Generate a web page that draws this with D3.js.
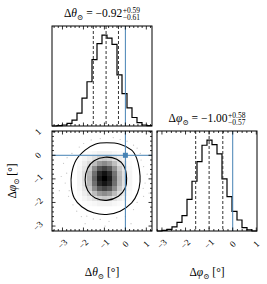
<!DOCTYPE html>
<html>
<head>
<meta charset="utf-8">
<script src="https://cdn.jsdelivr.net/npm/d3@7"></script>
<style>
  body { margin: 0; background: #fff; }
  text { font-family: "Liberation Serif", "DejaVu Serif", serif; fill: #000; }
</style>
</head>
<body>
<svg width="267" height="284"></svg>
<script>
// ranges of the two parameters (degrees)
var thetaRange = [-3.5, 1.27];
var phiRange = [-3.21, 1.03];
var majorTicks = [-3, -2, -1, 0, 1];

// 1D histograms, 20 bins each (relative counts)
var thetaHist = [0, 1, 3, 8, 17, 38, 82, 130, 195, 242, 267, 258, 240, 150, 95, 53, 25, 10, 3, 1];
var phiHist = [0, 2, 5, 12, 25, 45, 92, 145, 202, 250, 265, 252, 225, 152, 100, 57, 32, 10, 3, 0];

// quantiles (16, 50, 84 %) and truth values
var thetaQuant = [-1.53, -0.92, -0.33];
var phiQuant = [-1.57, -1.00, -0.42];
var truth = [0, 0];

// 2D histogram: bins 5..15 in theta (columns) and phi (rows, top = bin 15)
var densCols = [5, 6, 7, 8, 9, 10, 11, 12, 13, 14, 15];
var densRows = [15, 14, 13, 12, 11, 10, 9, 8, 7, 6, 5];
var density = [
  [0, .01, .02, .03, .05, .05, .05, .03, .02, .01, 0],
  [.01, .04, .07, .12, .18, .21, .18, .12, .07, .04, .01],
  [.02, .07, .14, .26, .40, .46, .39, .25, .13, .07, .02],
  [.03, .10, .22, .45, .66, .74, .65, .43, .21, .10, .03],
  [.04, .12, .28, .56, .84, .93, .83, .55, .27, .12, .04],
  [.04, .13, .30, .61, .90, 1.0, .89, .59, .29, .13, .04],
  [.04, .12, .28, .56, .84, .92, .84, .56, .28, .12, .04],
  [.03, .10, .22, .45, .65, .73, .66, .45, .22, .10, .03],
  [.02, .07, .14, .26, .40, .45, .40, .26, .14, .07, .02],
  [.01, .04, .07, .12, .18, .21, .19, .12, .07, .04, .01],
  [0, .01, .02, .03, .05, .05, .05, .03, .02, .01, 0]
];

// contour lines [theta, phi]
var outerContour = [[-0.89, 0.53], [-0.25, 0.47], [0.30, 0.22], [0.54, -0.13], [0.67, -0.62], [0.70, -1.11],
  [0.58, -1.60], [0.30, -2.02], [-0.25, -2.37], [-0.89, -2.51], [-1.52, -2.44], [-2.08, -2.18],
  [-2.44, -1.81], [-2.58, -1.32], [-2.56, -0.76], [-2.35, -0.20], [-1.92, 0.22], [-1.44, 0.47]];
var innerContour = [[-0.97, -0.08], [-0.41, -0.17], [-0.06, -0.48], [0.06, -0.97], [-0.01, -1.39],
  [-0.33, -1.74], [-0.89, -1.91], [-1.44, -1.81], [-1.80, -1.49], [-1.92, -1.04], [-1.80, -0.55], [-1.49, -0.23]];

// faint samples outside the outer contour
var samples = [[-2.95, -0.34], [-2.8, -0.76], [-2.87, -1.18], [-2.71, -1.74], [-2.32, -2.37], [-1.84, -2.58],
  [-1.2, -2.72], [-0.41, -2.65], [0.39, -2.3], [0.87, -1.74], [0.94, -1.18], [0.87, -0.48], [0.71, 0.08],
  [0.39, 0.43], [-0.25, 0.67], [-1.2, 0.71], [-1.99, 0.5], [-2.55, 0.08], [-2.78, -0.1], [-2.68, -1.5],
  [-2.5, -2.1], [-2.1, -2.6], [-1.53, -2.7], [-0.78, -2.8], [0.0, -2.6], [0.56, -2.0], [0.85, -1.4],
  [1.04, -0.8], [0.75, -0.2], [0.56, 0.3], [0.08, 0.6], [-0.58, 0.75], [-1.63, 0.65], [-2.2, 0.35],
  [-3.06, -0.9], [-3.15, -1.5], [0.27, -2.9], [-0.97, -3.0], [1.13, -1.6], [-1.92, -2.9]];

var svg = d3.select("svg");
var W = 100, H = 100;
var col = [52, 157], row = [26, 131];
var blue = "#4682b4";

var xTheta = d3.scaleLinear().domain(thetaRange).range([0, W]);
var xPhi = d3.scaleLinear().domain(phiRange).range([0, W]);
var yPhi = d3.scaleLinear().domain(phiRange).range([H, 0]);

function minorTicks(range) {
  var t = [];
  for (var v = Math.ceil(range[0] * 5); v <= Math.floor(range[1] * 5); v++) {
    if (v % 5 != 0) t.push(v / 5);
  }
  return t;
}

function ticksFor(g, scale, side, range) {
  var maj = majorTicks.filter(function(d) { return d >= range[0] && d <= range[1]; });
  var mk = function(vals, len) {
    var sel = g.append("g").selectAll("line").data(vals).enter().append("line")
      .attr("stroke", "#000").attr("stroke-width", 0.8);
    if (side == "bottom") sel.attr("x1", scale).attr("x2", scale).attr("y1", H).attr("y2", H - len);
    if (side == "top") sel.attr("x1", scale).attr("x2", scale).attr("y1", 0).attr("y2", len);
    if (side == "left") sel.attr("y1", scale).attr("y2", scale).attr("x1", 0).attr("x2", len);
    if (side == "right") sel.attr("y1", scale).attr("y2", scale).attr("x1", W).attr("x2", W - len);
  };
  mk(maj, 3.5);
  mk(minorTicks(range), 2);
}

function frame(g) {
  g.append("rect").attr("width", W).attr("height", H)
    .attr("fill", "none").attr("stroke", "#000").attr("stroke-width", 1);
}

function fmt(d) { return d < 0 ? "\u2212" + Math.abs(d) : "" + d; }

function histPanel(g, xs, counts, range, quant, truthVal) {
  var ys = d3.scaleLinear().domain([0, d3.max(counts) * 1.1]).range([H, 0]);
  var step = (range[1] - range[0]) / counts.length;
  var pts = counts.map(function(c, i) { return [range[0] + i * step, c]; });
  pts.push([range[1], counts[counts.length - 1]]);
  g.append("path").datum(pts)
    .attr("d", d3.line().curve(d3.curveStepAfter).x(function(d) { return xs(d[0]); }).y(function(d) { return ys(d[1]); }))
    .attr("fill", "none").attr("stroke", "#000").attr("stroke-width", 1.2);
  g.selectAll("line.q").data(quant).enter().append("line").attr("class", "q")
    .attr("x1", xs).attr("x2", xs).attr("y1", 0).attr("y2", H)
    .attr("stroke", "#333").attr("stroke-width", 1).attr("stroke-dasharray", "3,2");
  g.append("line").attr("x1", xs(truthVal)).attr("x2", xs(truthVal)).attr("y1", 0).attr("y2", H)
    .attr("stroke", blue).attr("stroke-width", 1);
  ticksFor(g, xs, "bottom", range);
  ticksFor(g, xs, "top", range);
  frame(g);
}

// top-left: theta histogram
var g1 = svg.append("g").attr("transform", "translate(" + col[0] + "," + row[0] + ")");
histPanel(g1, xTheta, thetaHist, thetaRange, thetaQuant, truth[0]);

// bottom-right: phi histogram
var g3 = svg.append("g").attr("transform", "translate(" + col[1] + "," + row[1] + ")");
histPanel(g3, xPhi, phiHist, phiRange, phiQuant, truth[1]);

// bottom-left: 2D
var g2 = svg.append("g").attr("transform", "translate(" + col[0] + "," + row[1] + ")");
g2.append("clipPath").attr("id", "clip2").append("rect").attr("width", W).attr("height", H);
var body = g2.append("g").attr("clip-path", "url(#clip2)");
body.selectAll("circle").data(samples).enter().append("circle")
  .attr("cx", function(d) { return xTheta(d[0]); }).attr("cy", function(d) { return yPhi(d[1]); })
  .attr("r", 0.6).attr("fill", "#999").attr("opacity", 0.6);
var contourLine = d3.line().curve(d3.curveCardinalClosed.tension(0.2))
  .x(function(d) { return xTheta(d[0]); }).y(function(d) { return yPhi(d[1]); });
body.append("path").datum(outerContour).attr("d", contourLine).attr("fill", "#fff");
var tStep = (thetaRange[1] - thetaRange[0]) / 20, pStep = (phiRange[1] - phiRange[0]) / 20;
density.forEach(function(r, ri) {
  r.forEach(function(v, ci) {
    if (v <= 0) return;
    var t0 = thetaRange[0] + densCols[ci] * tStep, p0 = phiRange[0] + densRows[ri] * pStep;
    body.append("rect")
      .attr("x", xTheta(t0)).attr("width", xTheta(t0 + tStep) - xTheta(t0) + 0.3)
      .attr("y", yPhi(p0 + pStep)).attr("height", yPhi(p0) - yPhi(p0 + pStep) + 0.3)
      .attr("fill", d3.interpolateRgb("#fff", "#000")(v));
  });
});
[outerContour, innerContour].forEach(function(c) {
  body.append("path").datum(c).attr("d", contourLine)
    .attr("fill", "none").attr("stroke", "#000").attr("stroke-width", 1.1);
});
body.append("line").attr("x1", xTheta(truth[0])).attr("x2", xTheta(truth[0])).attr("y1", 0).attr("y2", H)
  .attr("stroke", blue).attr("stroke-width", 1);
body.append("line").attr("y1", yPhi(truth[1])).attr("y2", yPhi(truth[1])).attr("x1", 0).attr("x2", W)
  .attr("stroke", blue).attr("stroke-width", 1);
body.append("rect").attr("x", xTheta(truth[0]) - 2.5).attr("y", yPhi(truth[1]) - 2.5)
  .attr("width", 5).attr("height", 5).attr("fill", blue);
ticksFor(g2, xTheta, "bottom", thetaRange);
ticksFor(g2, xTheta, "top", thetaRange);
ticksFor(g2, yPhi, "left", phiRange);
ticksFor(g2, yPhi, "right", phiRange);
frame(g2);

// tick labels
function xLabels(g, xs, range) {
  g.selectAll("text.xt").data(majorTicks.filter(function(d) { return d >= range[0] && d <= range[1]; }))
    .enter().append("text").attr("class", "xt")
    .attr("transform", function(d) { return "translate(" + xs(d) + "," + (H + 13) + ") rotate(-45)"; })
    .attr("text-anchor", "middle").attr("dominant-baseline", "central")
    .attr("font-size", 9).text(fmt);
}
xLabels(g2, xTheta, thetaRange);
xLabels(g3, xPhi, phiRange);
g2.selectAll("text.yt").data(majorTicks.filter(function(d) { return d >= phiRange[0] && d <= phiRange[1]; }))
  .enter().append("text").attr("class", "yt")
  .attr("transform", function(d) { return "translate(-14," + yPhi(d) + ") rotate(-45)"; })
  .attr("text-anchor", "middle").attr("dominant-baseline", "central")
  .attr("font-size", 9).text(fmt);

// labels with the sun subscript
function symLabel(parent, x, y, sym, rot) {
  var t = parent.append("text").attr("font-size", 11.5).attr("text-anchor", "middle")
    .attr("transform", "translate(" + x + "," + y + ")" + (rot ? " rotate(" + rot + ")" : ""));
  t.append("tspan").text("\u0394");
  t.append("tspan").attr("font-style", "italic").text(sym);
  t.append("tspan").attr("font-size", 7.5).attr("dy", 2.5).text("\u2299");
  t.append("tspan").attr("dy", -2.5).text(" [\u00b0]");
}
symLabel(svg, col[0] + W / 2, 276, "\u03b8", 0);
symLabel(svg, col[1] + W / 2, 276, "\u03c6", 0);
symLabel(svg, 16, row[1] + H / 2, "\u03c6", -90);

function title(cx, y, sym, med, up, lo) {
  var g = svg.append("g");
  var t = g.append("text").attr("font-size", 11.5).attr("y", y);
  t.append("tspan").text("\u0394");
  t.append("tspan").attr("font-style", "italic").text(sym);
  t.append("tspan").attr("font-size", 7.5).attr("dy", 2.5).text("\u2299");
  t.append("tspan").attr("dy", -2.5).text(" = " + med);
  var w = t.node().getComputedTextLength();
  var s1 = g.append("text").attr("font-size", 7.5).attr("x", w + 0.5).attr("y", y - 4.5).text(up);
  var s2 = g.append("text").attr("font-size", 7.5).attr("x", w + 0.5).attr("y", y + 3).text(lo);
  var tot = w + 0.5 + Math.max(s1.node().getComputedTextLength(), s2.node().getComputedTextLength());
  g.attr("transform", "translate(" + (cx - tot / 2) + ",0)");
}
title(col[0] + W / 2, 17, "\u03b8", "\u22120.92", "+0.59", "\u22120.61");
title(col[1] + W / 2, 122, "\u03c6", "\u22121.00", "+0.58", "\u22120.57");
</script>
</body>
</html>
